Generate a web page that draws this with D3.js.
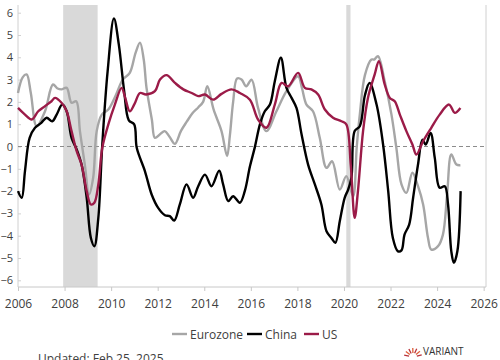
<!DOCTYPE html>
<html>
<head>
<meta charset="utf-8">
<script src="https://cdn.jsdelivr.net/npm/d3@7"></script>
<style>
  body { margin: 0; background: #fff; }
  svg { display: block; font-family: "Open Sans", "Noto Sans", sans-serif; }
</style>
</head>
<body>
<div id="chart"></div>
<script>
// chart size
var width = 500, height = 360;

// values: [year, value]
var eurozone = [
  [2006.0, 2.4], [2006.2, 3.1], [2006.37, 3.23], [2006.55, 2.4], [2006.8, 0.91], [2007.16, 1.58],
  [2007.5, 2.78], [2007.7, 2.6], [2007.87, 2.56], [2008.09, 2.63], [2008.3, 1.96], [2008.5, 2.03],
  [2008.66, 0.69], [2008.87, -0.81], [2009.05, -2.15], [2009.23, -1.39], [2009.38, 0.69], [2009.6, 1.43],
  [2009.88, 1.66], [2010.2, 2.3], [2010.5, 3.0], [2010.8, 3.3], [2011.05, 4.2], [2011.24, 4.66],
  [2011.4, 3.9], [2011.52, 2.63], [2011.75, 1.2], [2011.88, 0.39], [2012.1, 0.55], [2012.3, 0.69],
  [2012.5, 0.45], [2012.74, 0.12], [2013.0, 0.7], [2013.24, 1.1], [2013.5, 1.5], [2013.74, 1.75],
  [2013.95, 2.0], [2014.13, 2.7], [2014.4, 1.66], [2014.74, 0.69], [2014.98, -0.43], [2015.1, 0.5],
  [2015.24, 2.0], [2015.41, 3.05], [2015.6, 3.0], [2015.8, 2.7], [2016.03, 3.0], [2016.31, 1.73],
  [2016.67, 0.69], [2017.1, 1.58], [2017.53, 2.48], [2018.03, 3.15], [2018.2, 2.6], [2018.39, 1.88],
  [2018.67, 1.58], [2018.96, 0.39], [2019.25, -0.96], [2019.49, -0.66], [2019.82, -1.93], [2020.1, -1.33],
  [2020.39, -2.23], [2020.55, 0.0], [2020.68, 1.43], [2020.9, 3.2], [2021.18, 3.9], [2021.3, 3.9],
  [2021.46, 4.05], [2021.75, 2.93], [2022.04, 1.43], [2022.25, -0.06], [2022.47, -1.7], [2022.68, -2.08],
  [2022.94, -1.18], [2023.18, -1.78], [2023.4, -2.6], [2023.61, -4.1], [2023.75, -4.62], [2024.04, -4.47],
  [2024.25, -3.95], [2024.43, -2.15], [2024.61, -0.36], [2024.83, -0.81], [2025.0, -0.84]
];

var china = [
  [2006.0, -2.0], [2006.16, -2.3], [2006.3, -1.1], [2006.5, 0.39], [2006.73, 0.84], [2007.0, 1.06],
  [2007.23, 1.29], [2007.47, 1.13], [2007.66, 1.43], [2007.9, 1.88], [2008.09, 1.58], [2008.3, 0.39],
  [2008.52, -0.13], [2008.73, -0.81], [2008.95, -2.3], [2009.13, -4.1], [2009.28, -4.47], [2009.45, -3.2],
  [2009.62, 0.09], [2009.85, 3.38], [2010.12, 5.74], [2010.33, 4.57], [2010.56, 2.48], [2010.76, 1.17],
  [2010.99, 0.99], [2011.1, -0.06], [2011.45, -1.1], [2011.74, -2.15], [2012.02, -2.75], [2012.31, -3.08],
  [2012.52, -3.12], [2012.71, -3.32], [2012.95, -2.6], [2013.24, -1.7], [2013.52, -2.3], [2013.74, -1.78],
  [2014.03, -1.26], [2014.31, -1.78], [2014.64, -1.08], [2014.81, -1.7], [2015.03, -2.45], [2015.24, -2.23],
  [2015.53, -2.52], [2015.74, -2.0], [2015.96, -0.9], [2016.17, -0.04], [2016.39, 0.99], [2016.6, 1.58],
  [2016.82, 1.88], [2017.03, 2.93], [2017.29, 3.98], [2017.53, 2.63], [2017.75, 2.18], [2017.96, 1.73],
  [2018.18, 0.54], [2018.46, -0.81], [2018.75, -1.7], [2019.03, -2.6], [2019.25, -3.8], [2019.46, -4.1],
  [2019.63, -4.32], [2019.82, -3.35], [2020.03, -2.3], [2020.18, -1.93], [2020.32, -1.4], [2020.46, 0.69],
  [2020.68, 0.91], [2020.9, 2.3], [2021.1, 2.85], [2021.4, 1.88], [2021.68, 0.09], [2021.9, -2.0],
  [2022.1, -4.1], [2022.32, -4.7], [2022.47, -4.66], [2022.6, -3.95], [2022.8, -3.5], [2022.97, -2.3],
  [2023.18, -0.81], [2023.37, 0.31], [2023.51, 0.09], [2023.72, 0.61], [2023.9, -0.51], [2024.11, -1.85],
  [2024.33, -1.78], [2024.47, -2.6], [2024.61, -4.7], [2024.72, -5.22], [2024.87, -4.7], [2025.01, -2.0]
];

var us = [
  [2006.0, 1.73], [2006.3, 1.43], [2006.59, 1.21], [2006.87, 1.58], [2007.16, 1.81], [2007.44, 2.03],
  [2007.59, 2.18], [2007.87, 1.96], [2008.09, 1.58], [2008.3, 0.69], [2008.52, -0.21], [2008.73, -0.81],
  [2008.95, -2.0], [2009.13, -2.6], [2009.28, -2.52], [2009.45, -1.7], [2009.62, -0.06], [2009.88, 0.99],
  [2010.16, 1.88], [2010.45, 2.63], [2010.6, 2.2], [2010.8, 1.58], [2011.0, 1.9], [2011.24, 2.4],
  [2011.5, 2.33], [2011.88, 2.48], [2012.1, 3.0], [2012.38, 3.2], [2012.74, 2.85], [2013.1, 2.56],
  [2013.46, 2.4], [2013.74, 2.26], [2014.03, 2.33], [2014.38, 2.1], [2014.74, 2.36], [2015.17, 2.56],
  [2015.53, 2.4], [2015.96, 2.1], [2016.31, 1.21], [2016.67, 0.84], [2017.03, 1.88], [2017.32, 2.85],
  [2017.6, 2.7], [2018.03, 3.3], [2018.32, 2.63], [2018.6, 2.56], [2018.89, 2.33], [2019.18, 1.66],
  [2019.53, 1.29], [2019.89, 1.13], [2020.1, 0.99], [2020.29, -0.81], [2020.46, -3.2], [2020.6, -2.0],
  [2020.82, 0.69], [2021.03, 2.18], [2021.32, 3.23], [2021.5, 3.83], [2021.75, 2.78], [2021.97, 2.18],
  [2022.18, 2.03], [2022.4, 1.43], [2022.68, 0.69], [2022.94, 0.09], [2023.11, -0.36], [2023.4, 0.24],
  [2023.75, 0.84], [2024.11, 1.43], [2024.51, 1.88], [2024.76, 1.51], [2025.0, 1.73]
];

// US recessions (shaded)
var recessions = [[2007.94, 2009.42], [2020.1, 2020.28]];

var yearTicks = [2006, 2008, 2010, 2012, 2014, 2016, 2018, 2020, 2022, 2024, 2026];
var valueTicks = [-6, -5, -4, -3, -2, -1, 0, 1, 2, 3, 4, 5, 6];

var series = [
  {name: "Eurozone", data: eurozone, color: "#a6a6a6"},
  {name: "China", data: china, color: "#000000"},
  {name: "US", data: us, color: "#9b1b48"}
];

var svg = d3.select("#chart").append("svg")
  .attr("width", width)
  .attr("height", height);

var x = d3.scaleLinear().domain([2006, 2026.1]).range([18, 486]);
var y = d3.scaleLinear().domain([-6.3, 6.3]).range([287, 6]);

// recession bars
svg.selectAll("rect.rec")
  .data(recessions)
  .enter().append("rect")
  .attr("class", "rec")
  .attr("x", function(d) { return x(d[0]); })
  .attr("width", function(d) { return x(d[1]) - x(d[0]); })
  .attr("y", 5)
  .attr("height", 282)
  .attr("fill", "#d9d9d9");

// frame
svg.append("line").attr("x1", 18).attr("x2", 18).attr("y1", 5).attr("y2", 287)
  .attr("stroke", "#d0d0d0");
svg.append("line").attr("x1", 486).attr("x2", 486).attr("y1", 5).attr("y2", 287)
  .attr("stroke", "#d0d0d0");

// y axis
var yAxis = d3.axisLeft(y).tickValues(valueTicks).tickSize(-3).tickPadding(6);
var gy = svg.append("g").attr("transform", "translate(18,0)").call(yAxis);
gy.select(".domain").remove();
gy.selectAll(".tick line").attr("stroke", "#d0d0d0");
gy.selectAll(".tick text")
  .attr("x", -5)
  .style("font-size", "11px")
  .style("font-family", "'Open Sans', sans-serif")
  .attr("fill", "#404040");

// x axis
var xAxis = d3.axisBottom(x).tickValues(yearTicks).tickFormat(d3.format("d")).tickSize(4).tickPadding(8);
var gx = svg.append("g").attr("transform", "translate(0,287)").call(xAxis);
gx.select(".domain").attr("stroke", "#c8c8c8").attr("d", "M18,0H486");
gx.selectAll(".tick line").attr("stroke", "#c8c8c8");
gx.selectAll(".tick text")
  .style("font-size", "12px")
  .style("font-family", "'Open Sans', sans-serif")
  .attr("fill", "#404040");

// zero line
svg.append("line")
  .attr("x1", 18).attr("x2", 486)
  .attr("y1", y(0)).attr("y2", y(0))
  .attr("stroke", "#8c8c8c")
  .attr("stroke-width", 1)
  .attr("stroke-dasharray", "4,3");

var line = d3.line()
  .x(function(d) { return x(d[0]); })
  .y(function(d) { return y(d[1]); })
  .curve(d3.curveCatmullRom.alpha(0.5));

svg.selectAll("path.series")
  .data(series)
  .enter().append("path")
  .attr("class", "series")
  .attr("d", function(d) { return line(d.data); })
  .attr("fill", "none")
  .attr("stroke", function(d) { return d.color; })
  .attr("stroke-width", 2.4)
  .attr("stroke-linejoin", "round");

// legend
var legendX = [172, 247, 304];
var lg = svg.selectAll("g.legend")
  .data(series)
  .enter().append("g")
  .attr("class", "legend")
  .attr("transform", function(d, i) { return "translate(" + legendX[i] + ",334)"; });
lg.append("line")
  .attr("x1", 0).attr("x2", 15)
  .attr("stroke", function(d) { return d.color; })
  .attr("stroke-width", 2.4);
lg.append("text")
  .attr("x", 18).attr("y", 4.5)
  .style("font-size", "12px")
  .attr("fill", "#404040")
  .text(function(d) { return d.name; });

// footer
svg.append("text")
  .attr("x", 38).attr("y", 363)
  .style("font-size", "12px")
  .attr("fill", "#404040")
  .text("Updated: Feb 25, 2025");

// logo
var logo = svg.append("g").attr("transform", "translate(413,357)");
d3.range(7).forEach(function(i) {
  var a = Math.PI + i * Math.PI / 7 + 0.2;
  logo.append("line")
    .attr("x1", 4 * Math.cos(a)).attr("y1", 4 * Math.sin(a))
    .attr("x2", 9 * Math.cos(a)).attr("y2", 9 * Math.sin(a))
    .attr("stroke", i % 2 ? "#e0603a" : "#b8323a")
    .attr("stroke-width", 1.3);
});
svg.append("text")
  .attr("x", 423).attr("y", 355)
  .style("font-size", "10px")
  .attr("fill", "#333")
  .text("VARIANT");
svg.append("text")
  .attr("x", 423).attr("y", 368)
  .style("font-size", "9px")
  .attr("fill", "#333")
  .text("PERCEPTION");
</script>
</body>
</html>
